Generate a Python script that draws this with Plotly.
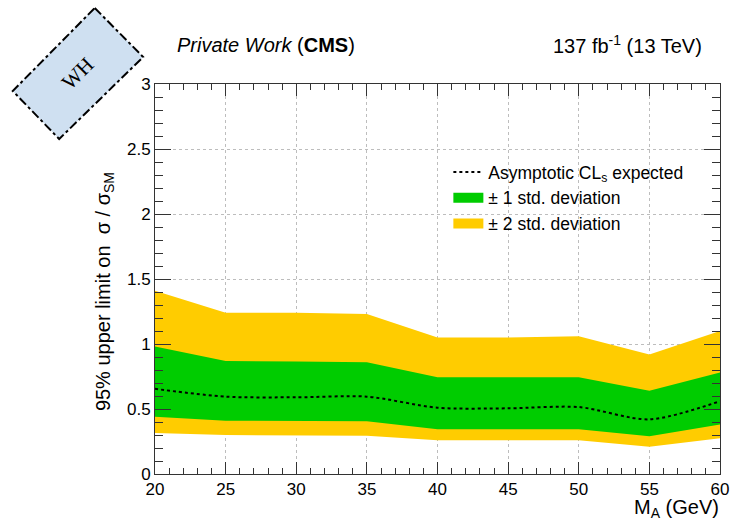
import plotly.graph_objects as go

# ---- data ----
mass = [20, 25, 30, 35, 40, 45, 50, 55, 60]
expected = [0.655, 0.595, 0.59, 0.595, 0.51, 0.505, 0.515, 0.42, 0.56]
up1 = [0.98, 0.87, 0.865, 0.86, 0.745, 0.745, 0.745, 0.64, 0.78]
dn1 = [0.44, 0.41, 0.405, 0.405, 0.345, 0.345, 0.345, 0.29, 0.38]
up2 = [1.41, 1.24, 1.24, 1.23, 1.05, 1.05, 1.06, 0.92, 1.10]
dn2 = [0.315, 0.30, 0.295, 0.295, 0.26, 0.26, 0.26, 0.21, 0.275]
x_ticks = [20, 25, 30, 35, 40, 45, 50, 55, 60]
y_ticks = [0, 0.5, 1, 1.5, 2, 2.5, 3]
y_tick_text = ["0", "0.5", "1", "1.5", "2", "2.5", "3"]

W, H = 741, 522
ML, MR, MT, MB = 155, 14, 84, 48
PW, PH = W - ML - MR, H - MT - MB


def px(x):
    return (x - ML) / PW


def py(y):
    return (H - MB - y) / PH


FONT = "Liberation Sans, Arial, sans-serif"
YELLOW = "#ffcc00"
GREEN = "#00cc00"

fig = go.Figure()
# bands (drawn from the data arrays)
fig.add_trace(go.Scatter(
    x=mass + mass[::-1], y=up2 + dn2[::-1], fill="toself", fillcolor=YELLOW,
    line=dict(width=0, color=YELLOW), mode="lines", showlegend=False,
    hoverinfo="skip"))
fig.add_trace(go.Scatter(
    x=mass + mass[::-1], y=up1 + dn1[::-1], fill="toself", fillcolor=GREEN,
    line=dict(width=0, color=GREEN), mode="lines", showlegend=False,
    hoverinfo="skip"))
fig.add_trace(go.Scatter(
    x=mass, y=expected, mode="lines",
    line=dict(color="black", width=2, dash="3px,3px", shape="spline", smoothing=0.8),
    name="Asymptotic CL<sub>s</sub> expected", legendrank=1))
# legend entries for the bands
fig.add_trace(go.Scatter(
    x=[None], y=[None], mode="lines", line=dict(color=GREEN, width=17),
    name="± 1 std. deviation", legendrank=2))
fig.add_trace(go.Scatter(
    x=[None], y=[None], mode="lines", line=dict(color=YELLOW, width=17),
    name="± 2 std. deviation", legendrank=3))

axis_common = dict(
    showline=True, linecolor="#333333", linewidth=1, mirror="allticks",
    ticks="inside", tickcolor="#333333", showgrid=True, gridcolor="#bdbdbd",
    griddash="dot", gridwidth=1, zeroline=False,
    tickfont=dict(family=FONT, size=17, color="black"),
)

fig.update_xaxes(
    range=[20, 60], tickvals=x_ticks, ticklen=12,
    minor=dict(ticks="inside", dtick=1, ticklen=6, tickcolor="#333333", showgrid=False),
    **axis_common)
fig.update_yaxes(
    range=[0, 3], tickvals=y_ticks, ticktext=y_tick_text, ticklen=16,
    minor=dict(ticks="inside", dtick=0.1, ticklen=8, tickcolor="#333333", showgrid=False),
    **axis_common)

# WH box
corners = [(94, 8), (143, 57), (58, 139), (11, 91)]
path = "M " + " L ".join(f"{px(a):.5f},{py(b):.5f}" for a, b in corners) + " Z"
fig.add_shape(type="path", path=path, xref="paper", yref="paper",
              fillcolor="#cfe0f1", line=dict(color="black", width=2, dash="dashdot"),
              layer="above")

annotations = [
    dict(x=px(77), y=py(73), xanchor="center", yanchor="middle",
         text="WH", textangle=-45, showarrow=False,
         font=dict(family="Liberation Serif, serif", size=21, color="black"),
         xref="paper", yref="paper"),
    dict(x=px(175), y=py(45), xanchor="left", yanchor="middle",
         text="<i>Private Work</i> (<b>CMS</b>)", showarrow=False,
         font=dict(family=FONT, size=20, color="black"), xref="paper", yref="paper"),
    dict(x=px(711), y=py(45), xanchor="right", yanchor="middle",
         text="137 fb<sup>-1</sup> (13 TeV)", showarrow=False,
         font=dict(family=FONT, size=20, color="black"), xref="paper", yref="paper"),
    dict(x=px(104), y=py(413), xanchor="center", yanchor="bottom", textangle=-90,
         text="95% upper limit on  σ / σ<sub>SM</sub>", showarrow=False,
         font=dict(family=FONT, size=20, color="black"), xref="paper", yref="paper"),
    dict(x=px(728), y=py(509), xanchor="right", yanchor="middle",
         text="M<sub>A</sub> (GeV)", showarrow=False,
         font=dict(family=FONT, size=20, color="black"), xref="paper", yref="paper"),
]

fig.update_layout(
    width=W, height=H, margin=dict(l=ML, r=MR, t=MT, b=MB),
    paper_bgcolor="white", plot_bgcolor="white",
    annotations=annotations,
    legend=dict(x=px(452), y=py(154), xanchor="left", yanchor="top",
                bgcolor="rgba(0,0,0,0)",
                font=dict(family=FONT, size=17.5, color="black"), tracegroupgap=0),
    showlegend=True,
)

fig.write_html("out.html")
